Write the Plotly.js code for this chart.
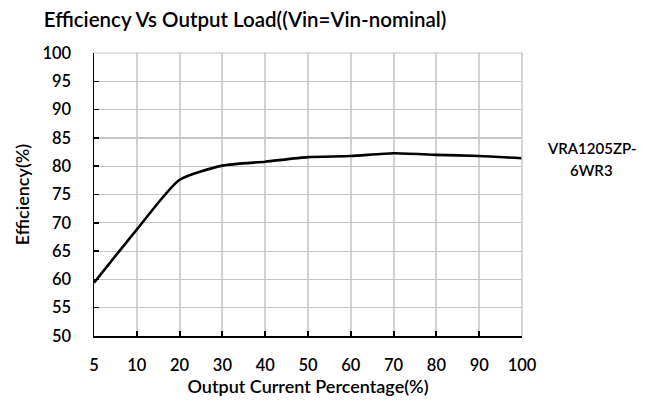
<!DOCTYPE html>
<html><head><meta charset="utf-8">
<script src="https://cdn.plot.ly/plotly-3.0.1.min.js"></script>
<style>html,body{margin:0;padding:0;background:#fff}#c{width:650px;height:401px}</style>
</head><body><div id="c"></div>
<script>
var categories = ["5","10","20","30","40","50","60","70","80","90","100"];
var efficiency = [59.4, 68.8, 77.6, 80.1, 80.8, 81.6, 81.8, 82.3, 82.0, 81.8, 81.4];
var seriesName = "VRA1205ZP-<br>6WR3";
var yTicks = [50,55,60,65,70,75,80,85,90,95,100];

var F = "Lato, 'DejaVu Sans', sans-serif";
var xIdx = categories.map(function(c, i){ return i; });
var trace = {
  x: xIdx, y: efficiency, type: "scatter", mode: "lines",
  line: {color: "#000", width: 2.6, shape: "spline", smoothing: 0.6},
  name: seriesName, showlegend: false, hoverinfo: "skip"
};
var nameParts = seriesName.split("<br>");
var layout = {
  width: 650, height: 401,
  margin: {l: 94, r: 128, t: 53, b: 65},
  paper_bgcolor: "#fff", plot_bgcolor: "#fff",
  title: {text: "Efficiency Vs Output Load((Vin=Vin-nominal)", x: 0.377, xanchor: "center", y: 0.95, yanchor: "middle",
          font: {family: F, size: 20.5, color: "#000", weight: 600}},
  xaxis: {type: "linear", range: [0, categories.length - 1], tickmode: "array", tickvals: xIdx, ticktext: categories,
          showgrid: true, gridcolor: "#d2d2d2", gridwidth: 2,
          showline: true, linecolor: "#000", linewidth: 1.5, ticks: "inside", ticklen: 5, tickwidth: 2, tickcolor: "#000",
          tickfont: {family: F, size: 16.5, color: "#000", weight: 600}, zeroline: false, ticklabelstandoff: 14,
          title: {text: "Output Current Percentage(%)", standoff: 3, font: {family: F, size: 18, color: "#000", weight: 600}}},
  yaxis: {range: [50, 100], tickvals: yTicks, showgrid: true, gridcolor: "#c4c4c4", gridwidth: 1.2,
          showline: true, linecolor: "#000", linewidth: 1.5, ticks: "inside", ticklen: 5, tickwidth: 1.5, tickcolor: "#000",
          tickfont: {family: F, size: 16.5, color: "#000", weight: 600}, zeroline: false, ticklabelstandoff: 18,
          title: {text: "Efficiency(%)", standoff: 8, font: {family: F, size: 18, color: "#000", weight: 600}}},
  shapes: [
    {type: "line", xref: "paper", yref: "paper", x0: 1, x1: 1, y0: 0, y1: 1, line: {color: "#c4c4c4", width: 1.4}},
    {type: "line", xref: "paper", yref: "paper", x0: 0, x1: 1, y0: 1, y1: 1, line: {color: "#c4c4c4", width: 1.2}}
  ],
  annotations: nameParts.map(function(t, i){
    return {xref: "paper", yref: "paper", x: 1.163, y: 0.665 - i * 0.078, xanchor: "center", yanchor: "middle",
            text: t, showarrow: false, font: {family: F, size: 15, color: "#000", weight: 600}};
  })
};
Plotly.newPlot("c", [trace], layout, {displayModeBar: false, staticPlot: true});
</script></body></html>
